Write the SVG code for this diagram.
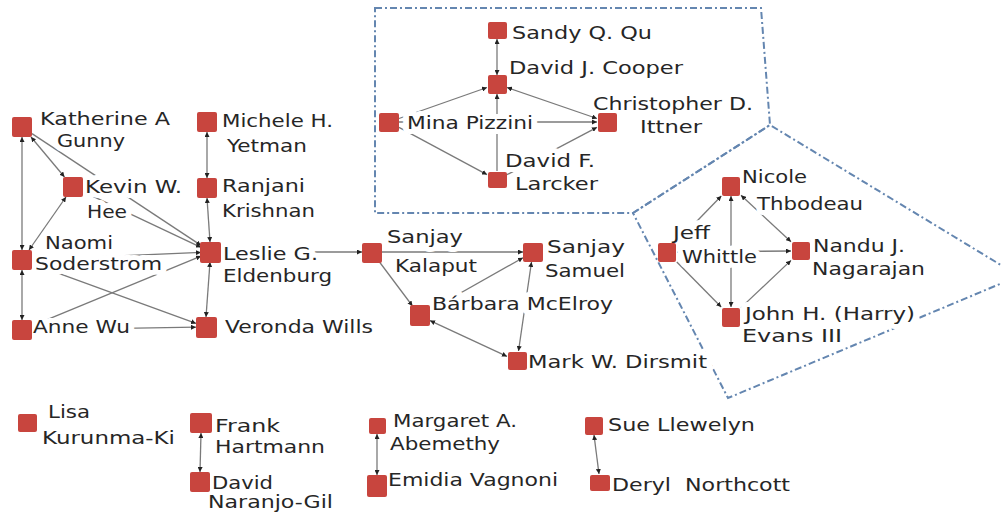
<svg xmlns="http://www.w3.org/2000/svg" width="1002" height="513" viewBox="0 0 1002 513">
<style>
.bg{fill:#ffffff}
.grp{fill:none;stroke:#6486b0;stroke-width:2;stroke-dasharray:7 3 2 3}
.n{fill:#c8453e}
.e{fill:none;stroke:#7a7a7a;stroke-width:1.3}
.ea{marker-end:url(#ah)}
.eb{marker-start:url(#ah);marker-end:url(#ah)}
.t{font-family:"DejaVu Sans","Verdana",sans-serif;font-size:18px;fill:#262626;stroke:#fff;stroke-width:10px;stroke-linejoin:round;paint-order:stroke}
</style>
<defs>
<marker id="ah" viewBox="0 0 6 6" refX="6" refY="3" markerWidth="5" markerHeight="5" markerUnits="userSpaceOnUse" orient="auto-start-reverse">
<path d="M0,0 L6,3 L0,6 Z" fill="#222"/>
</marker>
</defs>
<rect class="bg" x="0" y="0" width="1002" height="513"/>
<g id="groups">
<path class="grp" d="M375,8 L761,8 L770,125 L633,213 L375,213 Z"/>
<path class="grp" d="M633,213 L770,125 L1019,276 L728,398 Z"/>
</g>
<g id="connectors">
<line class="e eb" x1="22" y1="137" x2="22" y2="250"/>
<line class="e eb" x1="31" y1="137" x2="64.5" y2="177"/>
<line class="e ea" x1="32" y1="133.6" x2="201" y2="245.4"/>
<line class="e eb" x1="66" y1="197" x2="29" y2="250"/>
<line class="e ea" x1="83" y1="191.7" x2="201" y2="247.3"/>
<line class="e ea" x1="32" y1="259.6" x2="201" y2="252.4"/>
<line class="e ea" x1="32" y1="263.6" x2="196" y2="323.4"/>
<line class="e eb" x1="22" y1="270" x2="22" y2="320"/>
<line class="e ea" x1="32" y1="329.8" x2="196" y2="327.2"/>
<line class="e ea" x1="32" y1="325.9" x2="201" y2="256.1"/>
<line class="e eb" x1="207" y1="132" x2="207" y2="178"/>
<line class="e eb" x1="207" y1="198" x2="210" y2="242"/>
<line class="e eb" x1="210" y1="262" x2="206" y2="317"/>
<line class="e ea" x1="221" y1="252" x2="362" y2="252"/>
<line class="e ea" x1="382" y1="252" x2="523" y2="252"/>
<line class="e ea" x1="379.5" y1="262" x2="412.5" y2="306"/>
<line class="e ea" x1="430" y1="310.3" x2="523" y2="257.7"/>
<line class="e eb" x1="531.5" y1="262" x2="518.5" y2="351"/>
<line class="e eb" x1="430" y1="320.6" x2="507" y2="356.4"/>
<line class="e eb" x1="497" y1="39" x2="497" y2="75"/>
<line class="e ea" x1="399" y1="118.5" x2="487" y2="87.5"/>
<line class="e ea" x1="399" y1="122" x2="597" y2="122"/>
<line class="e eb" x1="507" y1="87.5" x2="597" y2="118.5"/>
<line class="e ea" x1="507" y1="174.7" x2="597" y2="127.3"/>
<line class="e ea" x1="399" y1="127.4" x2="487" y2="174.6"/>
<line class="e ea" x1="497" y1="171" x2="497" y2="94"/>
<line class="e ea" x1="676.7" y1="242" x2="721.3" y2="196"/>
<line class="e eb" x1="731" y1="196" x2="731" y2="307"/>
<line class="e ea" x1="677" y1="252" x2="791" y2="251"/>
<line class="e eb" x1="741" y1="195.3" x2="791" y2="241.7"/>
<line class="e ea" x1="676.8" y1="262" x2="721.2" y2="307"/>
<line class="e ea" x1="741" y1="307.6" x2="791" y2="260.4"/>
<line class="e eb" x1="201" y1="433" x2="200" y2="472"/>
<line class="e eb" x1="377" y1="434" x2="377" y2="475"/>
<line class="e eb" x1="594" y1="435" x2="599" y2="474"/>
</g>
<g id="n-katherine"><text class="t" x="40" y="125" textLength="130" lengthAdjust="spacingAndGlyphs">Katherine A</text><text class="t" x="57" y="147" textLength="68" lengthAdjust="spacingAndGlyphs">Gunny</text><rect class="n" x="12" y="117" width="20" height="20" rx="2"/></g>
<g id="n-kevin"><text class="t" x="85" y="193" textLength="97" lengthAdjust="spacingAndGlyphs">Kevin W.</text><text class="t" x="87" y="218" textLength="40" lengthAdjust="spacingAndGlyphs">Hee</text><rect class="n" x="63" y="177" width="20" height="20" rx="2"/></g>
<g id="n-naomi"><text class="t" x="45" y="249" textLength="68" lengthAdjust="spacingAndGlyphs">Naomi</text><text class="t" x="35" y="270" textLength="127" lengthAdjust="spacingAndGlyphs">Soderstrom</text><rect class="n" x="12" y="250" width="20" height="20" rx="2"/></g>
<g id="n-anne"><text class="t" x="33" y="333" textLength="97" lengthAdjust="spacingAndGlyphs">Anne Wu</text><rect class="n" x="12" y="320" width="20" height="20" rx="2"/></g>
<g id="n-michele"><text class="t" x="222" y="127" textLength="111" lengthAdjust="spacingAndGlyphs">Michele H.</text><text class="t" x="227" y="152" textLength="80" lengthAdjust="spacingAndGlyphs">Yetman</text><rect class="n" x="197" y="112" width="20" height="20" rx="2"/></g>
<g id="n-ranjani"><text class="t" x="222" y="192" textLength="83" lengthAdjust="spacingAndGlyphs">Ranjani</text><text class="t" x="222" y="217" textLength="93" lengthAdjust="spacingAndGlyphs">Krishnan</text><rect class="n" x="197" y="178" width="20" height="20" rx="2"/></g>
<g id="n-leslie"><text class="t" x="223" y="260" textLength="95" lengthAdjust="spacingAndGlyphs">Leslie G.</text><text class="t" x="223" y="282" textLength="109" lengthAdjust="spacingAndGlyphs">Eldenburg</text><rect class="n" x="200" y="242" width="21" height="21" rx="2"/></g>
<g id="n-veronda"><text class="t" x="225" y="333" textLength="148" lengthAdjust="spacingAndGlyphs">Veronda Wills</text><rect class="n" x="196" y="317" width="21" height="21" rx="2"/></g>
<g id="n-kalaput"><text class="t" x="387" y="243" textLength="76" lengthAdjust="spacingAndGlyphs">Sanjay</text><text class="t" x="395" y="272" textLength="82" lengthAdjust="spacingAndGlyphs">Kalaput</text><rect class="n" x="362" y="243" width="20" height="20" rx="2"/></g>
<g id="n-samuel"><text class="t" x="547" y="253" textLength="78" lengthAdjust="spacingAndGlyphs">Sanjay</text><text class="t" x="545" y="277" textLength="80" lengthAdjust="spacingAndGlyphs">Samuel</text><rect class="n" x="523" y="243" width="20" height="19" rx="2"/></g>
<g id="n-mcelroy"><text class="t" x="432" y="310" textLength="181" lengthAdjust="spacingAndGlyphs">Bárbara McElroy</text><rect class="n" x="410" y="305" width="20" height="21" rx="2"/></g>
<g id="n-dirsmit"><text class="t" x="528" y="368" textLength="179" lengthAdjust="spacingAndGlyphs">Mark W. Dirsmit</text><rect class="n" x="508" y="352" width="19" height="18" rx="2"/></g>
<g id="n-sandy"><text class="t" x="512" y="39" textLength="140" lengthAdjust="spacingAndGlyphs">Sandy Q. Qu</text><rect class="n" x="488" y="22" width="19" height="17" rx="2"/></g>
<g id="n-cooper"><text class="t" x="509" y="74" textLength="174" lengthAdjust="spacingAndGlyphs">David J. Cooper</text><rect class="n" x="488" y="75" width="19" height="19" rx="2"/></g>
<g id="n-mina"><text class="t" x="407" y="129" textLength="126" lengthAdjust="spacingAndGlyphs">Mina Pizzini</text><rect class="n" x="379" y="113" width="20" height="19" rx="2"/></g>
<g id="n-christopher"><text class="t" x="593" y="110" textLength="160" lengthAdjust="spacingAndGlyphs">Christopher D.</text><text class="t" x="640" y="133" textLength="62" lengthAdjust="spacingAndGlyphs">Ittner</text><rect class="n" x="598" y="113" width="19" height="19" rx="2"/></g>
<g id="n-larcker"><text class="t" x="505" y="167" textLength="90" lengthAdjust="spacingAndGlyphs">David F.</text><text class="t" x="515" y="190" textLength="83" lengthAdjust="spacingAndGlyphs">Larcker</text><rect class="n" x="488" y="172" width="19" height="16" rx="2"/></g>
<g id="n-nicole"><text class="t" x="742" y="183" textLength="65" lengthAdjust="spacingAndGlyphs">Nicole</text><text class="t" x="757" y="210" textLength="106" lengthAdjust="spacingAndGlyphs">Thbodeau</text><rect class="n" x="722" y="177" width="18" height="19" rx="2"/></g>
<g id="n-jeff"><text class="t" x="673" y="239" textLength="37" lengthAdjust="spacingAndGlyphs">Jeff</text><text class="t" x="682" y="263" textLength="75" lengthAdjust="spacingAndGlyphs">Whittle</text><rect class="n" x="658" y="243" width="18" height="19" rx="2"/></g>
<g id="n-nandu"><text class="t" x="813" y="252" textLength="92" lengthAdjust="spacingAndGlyphs">Nandu J.</text><text class="t" x="812" y="275" textLength="113" lengthAdjust="spacingAndGlyphs">Nagarajan</text><rect class="n" x="792" y="242" width="18" height="18" rx="2"/></g>
<g id="n-john"><text class="t" x="745" y="320" textLength="170" lengthAdjust="spacingAndGlyphs">John H. (Harry)</text><text class="t" x="742" y="342" textLength="100" lengthAdjust="spacingAndGlyphs">Evans III</text><rect class="n" x="722" y="308" width="18" height="19" rx="2"/></g>
<g id="n-lisa"><text class="t" x="48" y="418" textLength="42" lengthAdjust="spacingAndGlyphs">Lisa</text><text class="t" x="42" y="444" textLength="133" lengthAdjust="spacingAndGlyphs">Kurunma-Ki</text><rect class="n" x="18" y="414" width="19" height="18" rx="2"/></g>
<g id="n-frank"><text class="t" x="215" y="432" textLength="65" lengthAdjust="spacingAndGlyphs">Frank</text><text class="t" x="215" y="453" textLength="110" lengthAdjust="spacingAndGlyphs">Hartmann</text><rect class="n" x="190" y="413" width="22" height="20" rx="2"/></g>
<g id="n-naranjo"><text class="t" x="212" y="489" textLength="61" lengthAdjust="spacingAndGlyphs">David</text><text class="t" x="208" y="508" textLength="125" lengthAdjust="spacingAndGlyphs">Naranjo-Gil</text><rect class="n" x="190" y="472" width="20" height="20" rx="2"/></g>
<g id="n-margaret"><text class="t" x="393" y="427" textLength="124" lengthAdjust="spacingAndGlyphs">Margaret A.</text><text class="t" x="390" y="450" textLength="110" lengthAdjust="spacingAndGlyphs">Abemethy</text><rect class="n" x="369" y="418" width="17" height="16" rx="2"/></g>
<g id="n-emidia"><text class="t" x="388" y="486" textLength="170" lengthAdjust="spacingAndGlyphs">Emidia Vagnoni</text><rect class="n" x="367" y="475" width="20" height="22" rx="2"/></g>
<g id="n-sue"><text class="t" x="608" y="431" textLength="147" lengthAdjust="spacingAndGlyphs">Sue Llewelyn</text><rect class="n" x="585" y="417" width="18" height="18" rx="2"/></g>
<g id="n-deryl"><text class="t" x="612" y="491" textLength="178" lengthAdjust="spacingAndGlyphs" xml:space="preserve">Deryl  Northcott</text><rect class="n" x="590" y="475" width="20" height="16" rx="2"/></g>
</svg>
